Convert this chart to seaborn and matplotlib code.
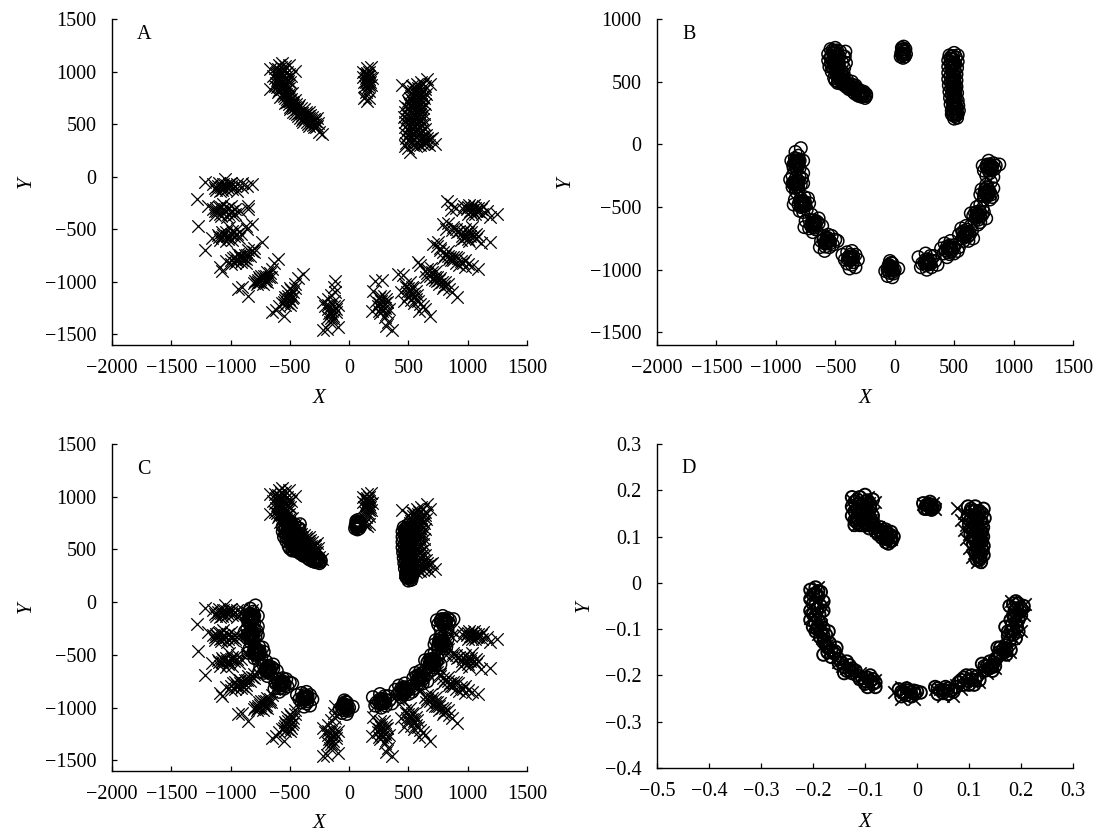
import matplotlib
matplotlib.use("Agg")
import matplotlib.pyplot as plt
import seaborn as sns
import pandas as pd

sns.set_theme(style="ticks")
plt.rcParams['font.family'] = ['Liberation Serif', 'DejaVu Serif']

# ---- panel A: crosses ----
a_arm_left = [(-625,1030),(-590,1060),(-567,1085),(-510,1060),(-455,1006),(-670,1025),(-640,960),(-610,1000),(-580,1010),(-550,1020),(-520,1000),(-490,960),
 (-610,920),(-590,950),(-560,960),(-530,930),(-500,900),(-666,835),(-625,860),(-590,880),(-565,900),(-535,870),(-505,840),(-600,810),(-570,830),(-540,810),
 (-510,790),(-480,800),(-580,760),(-550,770),(-520,740),(-490,740),(-460,730),(-545,700),(-510,690),(-480,680),(-450,690),(-420,680),(-500,640),(-470,620),
 (-440,640),(-410,620),(-380,640),(-430,580),(-395,590),(-365,600),(-340,620),(-400,540),(-370,550),(-340,560),(-310,570),(-350,500),(-320,510),(-290,530),
 (-270,560),(-300,470),(-270,480),(-260,510),(-255,430),(-230,408),
 (-600,1020),(-575,1040),(-545,1050),(-620,985),(-595,975),(-565,985),(-535,985),(-505,975),(-625,940),(-600,935),(-575,925),(-545,940),(-515,915),(-615,895),
 (-590,905),(-565,875),(-540,895),(-515,865),(-610,850),(-585,850),(-555,850),(-525,830),(-590,825),(-560,800),(-530,785),(-505,760),(-570,780),(-540,745),
 (-510,725),(-480,715),(-525,710),(-495,665),(-460,660),(-430,660),(-475,650),(-455,610),(-425,605),(-395,610),(-415,560),(-380,570),(-350,580),(-385,520),
 (-355,525),(-325,535),(-335,480),(-305,490),(-285,500),(-470,700),(-440,600),(-470,680),(-500,720),(-410,650),(-360,620),(-330,590),(-300,545),(-280,470),(-360,560),(-390,560)]
a_small = [(120,1000),(150,1030),(185,1040),(115,950),(140,980),(170,960),(195,940),(125,900),(150,920),(175,900),(130,860),(160,850),(185,870),(145,810),
 (170,820),(125,745),(150,720),(135,760),(165,745),(150,950),(165,930),(140,900),(160,880),(150,990),(170,1000),(155,965),(145,935),(155,905),(170,875)]
a_arm_right = [(444,875),(655,930),(610,900),(570,880),(530,860),(640,860),(680,880),(500,830),(540,820),(580,840),(620,820),(650,790),(520,770),(560,790),
 (600,780),(630,750),(495,720),(530,730),(570,740),(610,720),(640,690),(470,670),(510,680),(550,690),(590,670),(625,650),(470,620),(510,630),(550,640),(590,620),
 (630,600),(465,570),(500,580),(540,590),(580,570),(620,550),(470,520),(510,530),(550,540),(590,520),(630,500),(470,470),(510,480),(550,490),(590,470),(640,450),
 (475,420),(515,430),(555,440),(600,420),(650,400),(700,370),(480,370),(520,380),(560,390),(610,360),(660,340),(725,313),(480,320),(530,330),(570,330),(620,310),
 (670,300),(500,270),(514,231),(560,290),(600,300),(650,320),(470,290),
 (545,850),(590,860),(625,880),(525,800),(565,810),(605,800),(640,830),(515,750),(550,760),(585,760),(620,770),(505,700),(540,710),(575,710),(605,695),(495,650),
 (530,655),(570,655),(605,645),(490,600),(525,610),(565,610),(600,595),(490,550),(525,560),(560,565),(600,545),(495,500),(530,510),(570,505),(610,490),(495,450),
 (530,460),(575,455),(615,445),(500,400),(540,410),(585,395),(625,390),(660,370),(505,350),(545,355),(590,345),(635,350),(680,360),(540,305),(580,310),(630,335)]
a_row1 = [(-1214,-54),(-1150,-70),(-1100,-60),(-1045,-22),(-1130,-110),(-1080,-100),(-1040,-80),(-1000,-60),(-960,-90),(-900,-60),(-860,-90),(-820,-70),(-1090,-140),(-1040,-130),(-990,-120),(-950,-140),
 (-1110,-90),(-1060,-70),(-1020,-110),(-1070,-130),(-1000,-90),(-1120,-130),(-950,-70),(-1060,-100),(-1015,-70),(-900,-100)]
a_row2 = [(-1284,-210),(-1190,-280),(-1150,-310),(-1116,-322),(-1080,-290),(-1040,-330),(-1000,-280),(-960,-310),(-920,-330),(-850,-275),(-1130,-360),(-1080,-370),(-1030,-380),(-980,-360),(-1060,-260),(-850,-310),
 (-1130,-330),(-1100,-290),(-1070,-340),(-1090,-350),(-1060,-310),(-1020,-300),(-1020,-350),(-1120,-300),(-990,-330),(-960,-350)]
a_row3 = [(-1272,-465),(-1160,-580),(-1110,-550),(-1070,-530),(-1031,-560),(-990,-520),(-950,-500),(-910,-540),(-860,-500),(-820,-446),(-1090,-600),(-1040,-610),(-990,-600),(-1010,-480),(-870,-470),(-1214,-693),
 (-1070,-570),(-1040,-530),(-1010,-570),(-1000,-540),(-1060,-550),(-1020,-590),(-970,-560),(-950,-540),(-1100,-570),(-930,-580)]
a_row4 = [(-1073,-893),(-1040,-800),(-1000,-790),(-960,-760),(-919,-766),(-880,-740),(-850,-700),(-800,-680),(-737,-624),(-960,-820),(-910,-810),(-870,-780),(-1085,-860),(-940,-730),(-800,-720),(-870,-820),
 (-950,-780),(-920,-740),(-890,-770),(-900,-790),(-860,-740),(-840,-750),(-980,-770),(-950,-800),(-820,-710),(-1000,-830)]
a_row5 = [(-935,-1063),(-850,-1130),(-800,-1010),(-770,-980),(-750,-971),(-720,-940),(-690,-910),(-650,-880),(-598,-780),(-630,-820),(-780,-1020),(-730,-1020),(-700,-970),(-660,-950),(-900,-1050),(-690,-1000),
 (-770,-1000),(-750,-1000),(-730,-960),(-710,-990),(-740,-940),(-700,-940),(-680,-950),(-790,-990),(-670,-920),(-760,-950)]
a_row6 = [(-652,-1288),(-553,-1320),(-620,-1270),(-570,-1200),(-540,-1170),(-512,-1130),(-490,-1190),(-470,-1100),(-500,-1060),(-460,-1020),(-430,-960),(-386,-924),(-540,-1220),(-480,-1150),(-520,-1090),(-590,-1230),
 (-540,-1140),(-510,-1160),(-520,-1200),(-490,-1120),(-470,-1140),(-550,-1190),(-500,-1220),(-460,-1060),(-490,-1080),(-530,-1150)]
a_row7 = [(-218,-1462),(-190,-1450),(-93,-1431),(-146,-1272),(-118,-988),(-130,-1050),(-220,-1190),(-180,-1160),(-130,-1180),(-90,-1220),(-170,-1300),(-150,-1340),(-120,-1100),(-110,-1260),(-175,-1220),(-160,-1380),
 (-180,-1260),(-150,-1300),(-130,-1230),(-160,-1240),(-140,-1320),(-110,-1290),(-180,-1330),(-200,-1230),(-130,-1350),(-150,-1120)]
a_row8 = [(219,-988),(191,-1272),(200,-1090),(250,-1150),(290,-1130),(320,-1190),(240,-1230),(287,-1225),(340,-1260),(260,-1300),(300,-1330),(330,-1380),(360,-1462),(310,-1420),(270,-1180),(275,-980),
 (250,-1200),(270,-1250),(300,-1250),(280,-1280),(310,-1160),(260,-1130),(230,-1180),(320,-1300),(300,-1200),(250,-1280)]
a_row9 = [(413,-921),(450,-930),(470,-1020),(500,-1060),(528,-1111),(560,-1090),(500,-1130),(460,-1180),(560,-1160),(600,-1210),(640,-1260),(683,-1320),(590,-1280),(540,-1060),(440,-1100),(510,-1000),
 (510,-1090),(490,-1100),(530,-1050),(550,-1130),(570,-1120),(520,-1170),(480,-1050),(580,-1180),(545,-1200),(620,-1230)]
a_row10 = [(582,-814),(600,-840),(640,-900),(680,-940),(720,-950),(739,-988),(770,-960),(800,-1040),(840,-1070),(870,-1100),(908,-1146),(690,-870),(760,-1020),(650,-950),(830,-1020),(730,-900),
 (660,-920),(700,-970),(720,-980),(760,-980),(780,-1000),(740,-950),(700,-910),(810,-1000),(790,-1060),(660,-880)]
a_row11 = [(708,-636),(740,-660),(770,-700),(810,-740),(852,-766),(880,-790),(920,-770),(960,-820),(1000,-830),(1040,-850),(1088,-873),(830,-710),(900,-820),(750,-620),(980,-790),(790,-770),
 (790,-720),(830,-750),(860,-790),(880,-760),(900,-760),(840,-780),(940,-800),(980,-860),(930,-840),(770,-680)]
a_row12 = [(793,-446),(820,-500),(870,-510),(910,-530),(950,-560),(992,-560),(1030,-530),(1070,-590),(1110,-630),(1189,-624),(980,-500),(1040,-480),(940,-600),(1010,-610),(1090,-560),(830,-440),
 (900,-500),(930,-520),(960,-530),(1000,-530),(1020,-560),(970,-580),(1000,-590),(1050,-560),(880,-480),(1070,-540)]
a_row13 = [(824,-228),(860,-260),(900,-300),(960,-310),(1000,-290),(1020,-322),(1050,-270),(1090,-300),(1120,-350),(1160,-330),(1245,-351),(1190,-380),(1000,-350),(1060,-350),(860,-320),(1130,-280),
 (990,-310),(1030,-290),(1060,-300),(1040,-320),(1070,-330),(1010,-270),(1090,-330),(1110,-310),(1040,-350),(970,-280)]
A_GROUPS = [a_arm_left, a_small, a_arm_right, a_row1, a_row2, a_row3, a_row4, a_row5, a_row6, a_row7, a_row8, a_row9, a_row10, a_row11, a_row12, a_row13]

# ---- panel B: circles ----
b_arm_left = [(-540,760),(-500,770),(-460,740),(-560,720),(-520,730),(-480,720),(-430,700),(-560,670),(-520,680),(-480,670),(-440,650),(-550,620),(-510,630),(-470,620),
 (-530,580),(-490,590),(-450,560),(-510,530),(-470,520),(-430,510),(-480,490),(-440,480),(-400,490),(-360,500),(-410,460),(-370,450),(-330,470),(-350,420),(-310,440),
 (-290,410),(-260,420),(-310,390),(-280,380),(-250,370),(-240,400),
 (-525,750),(-505,745),(-485,750),(-535,705),(-510,705),(-490,700),(-465,700),(-540,690),(-500,655),(-470,650),(-535,650),(-515,655),(-490,640),(-530,620),(-490,615),(-510,600),
 (-470,595),(-495,570),(-470,560),(-450,590),(-490,550),(-460,540),(-435,540),(-500,510),(-475,500),(-450,505),(-425,490),(-400,515),(-380,480),(-400,470),(-355,475),(-385,440),
 (-355,445),(-335,440),(-320,425),(-335,405),(-300,420),(-295,385),(-275,400),(-265,395),(-255,385),(-285,395),
 (-500,725),(-495,695),(-505,675),(-495,665),(-480,690),(-510,640),(-500,625),(-485,600),(-480,575),(-475,540),(-455,525),(-445,500),(-420,475),(-415,505),(-395,455),(-370,470),
 (-345,455),(-320,450),(-305,405),(-270,410),(-290,430),(-260,405),(-240,385),(-420,700),(-415,740),(-410,650),(-425,610),(-430,565)]
b_small = [(60,770),(75,780),(90,760),(55,730),(75,740),(95,720),(50,700),(70,690),(85,700),(65,755),(80,720),(65,710),(70,725),(72,760),(60,715),(80,745)]
b_arm_right = [(460,710),(500,730),(530,710),(450,670),(490,680),(530,660),(450,620),(490,630),(525,610),(450,570),(490,580),(520,560),(450,520),(490,530),(520,510),
 (455,470),(490,480),(520,460),(460,420),(495,430),(525,410),(465,370),(500,380),(530,350),(470,320),(505,330),(535,310),(480,270),(510,280),(540,270),(500,205),(525,212),
 (475,700),(490,705),(515,695),(470,655),(510,645),(475,605),(505,590),(470,550),(505,545),(470,500),(505,495),(475,445),(510,440),(480,395),(510,400),(485,350),(515,355),(490,305),
 (520,300),(495,260),(520,260),(470,685),(495,655),(485,610),(490,555),(490,505),(490,455),(495,405),(500,350),(505,300),(510,245),(485,675),(480,625),(485,580),(480,525),(480,480),
 (485,425),(490,375),(495,320),(500,285),(505,225),(515,235),(490,235),(530,240),(480,240),(500,640),(500,520),(505,465),(505,375)]
b_c1 = [(-870,-130),(-835,-60),(-790,-30),(-810,-90),(-770,-130),(-850,-190),(-810,-170),(-770,-230),(-840,-110),(-800,-130),(-825,-200),(-845,-150),(-825,-130),(-815,-150),(-835,-175),(-800,-190),(-855,-165),(-820,-115),(-830,-150),(-820,-165),(-810,-135),(-840,-135)]
b_c2 = [(-880,-280),(-860,-340),(-835,-316),(-800,-260),(-770,-310),(-810,-360),(-860,-250),(-790,-320),(-830,-380),(-850,-300),(-780,-270),(-845,-320),(-825,-290),(-810,-310),(-835,-345),(-815,-335),(-830,-265),(-860,-310),(-825,-310),(-820,-320),(-835,-300),(-810,-290)]
b_c3 = [(-850,-480),(-790,-430),(-778,-475),(-720,-470),(-740,-520),(-800,-530),(-810,-480),(-760,-420),(-840,-440),(-770,-540),(-730,-430),(-790,-460),(-765,-495),(-755,-460),(-790,-500),(-800,-455),(-750,-490),(-775,-450),(-780,-480),(-770,-465),(-785,-490),(-760,-480)]
b_c4 = [(-760,-660),(-720,-600),(-680,-634),(-640,-630),(-660,-680),(-720,-670),(-700,-560),(-640,-590),(-750,-610),(-690,-700),(-610,-650),(-700,-625),(-680,-605),(-665,-640),(-690,-660),(-655,-615),(-705,-650),(-675,-665),(-685,-625),(-675,-645),(-690,-640),(-670,-620)]
b_c5 = [(-620,-770),(-576,-767),(-530,-730),(-520,-800),(-590,-850),(-630,-820),(-560,-720),(-480,-770),(-550,-820),(-600,-730),(-500,-760),(-590,-790),(-565,-745),(-545,-770),(-570,-790),(-600,-760),(-545,-790),(-585,-815),(-570,-765),(-580,-780),(-560,-775),(-575,-750)]
b_c6 = [(-440,-880),(-370,-905),(-330,-880),(-310,-920),(-380,-990),(-330,-980),(-400,-950),(-360,-850),(-420,-920),(-350,-940),(-400,-860),(-385,-895),(-355,-915),(-375,-925),(-395,-915),(-350,-890),(-375,-880),(-360,-960),(-370,-900),(-365,-915),(-380,-910),(-360,-895)]
b_c7 = [(-80,-1010),(-40,-980),(0,-1000),(30,-990),(-60,-1050),(-20,-1060),(-40,-930),(-10,-1030),(-50,-960),(-20,-950),(-60,-1000),(-35,-1005),(-25,-975),(-45,-1025),(-15,-1000),(-55,-980),(-30,-945),(-20,-1020),(-35,-990),(-30,-1000),(-40,-970),(-25,-990)]
b_c8 = [(200,-900),(230,-950),(275,-940),(340,-930),(270,-1000),(220,-980),(300,-890),(260,-870),(360,-960),(310,-980),(330,-890),(260,-920),(290,-950),(280,-915),(250,-945),(305,-925),(265,-965),(300,-955),(275,-930),(285,-940),(265,-945),(280,-955)]
b_c9 = [(390,-830),(457,-834),(510,-800),(440,-900),(500,-870),(470,-770),(420,-790),(530,-850),(410,-870),(480,-830),(540,-820),(440,-815),(465,-805),(480,-850),(450,-860),(430,-845),(495,-825),(460,-875),(455,-825),(465,-840),(445,-835),(470,-820)]
b_c10 = [(540,-720),(598,-714),(650,-690),(620,-770),(570,-750),(600,-650),(560,-670),(660,-750),(630,-720),(580,-770),(640,-650),(585,-690),(610,-680),(615,-735),(580,-735),(605,-715),(570,-700),(625,-700),(595,-705),(600,-725),(590,-720),(610,-705)]
b_c11 = [(640,-550),(702,-568),(750,-540),(720,-620),(670,-610),(690,-500),(740,-510),(770,-590),(660,-570),(720,-480),(700,-640),(690,-540),(715,-535),(720,-575),(685,-585),(705,-600),(735,-565),(675,-545),(700,-555),(695,-575),(710,-560),(690,-565)]
b_c12 = [(720,-400),(775,-383),(830,-350),(800,-440),(750,-440),(770,-320),(810,-300),(730,-360),(820,-420),(760,-360),(790,-400),(755,-385),(790,-360),(775,-415),(750,-410),(800,-380),(780,-340),(810,-400),(770,-375),(780,-390),(765,-395),(785,-370)]
b_c13 = [(740,-170),(780,-160),(808,-185),(850,-170),(880,-160),(800,-230),(770,-250),(830,-260),(790,-130),(750,-210),(830,-150),(780,-190),(800,-160),(820,-175),(790,-210),(815,-205),(770,-175),(840,-195),(800,-180),(810,-170),(795,-190),(815,-190)]
B_GROUPS = [b_arm_left, b_small, b_arm_right, b_c1, b_c2, b_c3, b_c4, b_c5, b_c6, b_c7, b_c8, b_c9, b_c10, b_c11, b_c12, b_c13]

# ---- panel D ----
d_circles = [(-0.125,0.185),(-0.10,0.19),(-0.085,0.18),(-0.125,0.165),(-0.105,0.17),(-0.09,0.16),(-0.125,0.145),(-0.105,0.15),(-0.09,0.14),(-0.12,0.125),(-0.10,0.13),
 (-0.085,0.125),(-0.07,0.12),(-0.06,0.115),(-0.05,0.11),(-0.075,0.105),(-0.06,0.095),(-0.05,0.09),(-0.045,0.10),(-0.055,0.085),
 (-0.115,0.18),(-0.095,0.178),(-0.115,0.158),(-0.098,0.16),(-0.115,0.138),(-0.098,0.142),(-0.11,0.125),(-0.092,0.118),(-0.08,0.112),(-0.066,0.108),(-0.065,0.102),(-0.05,0.098),
 (-0.112,0.17),(-0.105,0.16),(-0.108,0.145),(-0.105,0.135),(-0.085,0.13),(-0.075,0.115),(-0.058,0.105),(-0.06,0.088),
 (-0.12,0.175),(-0.11,0.185),(-0.10,0.175),(-0.09,0.17),(-0.12,0.155),(-0.11,0.165),(-0.095,0.15),(-0.085,0.145),(-0.12,0.135),(-0.11,0.15),(-0.1,0.14),(-0.09,0.13),(-0.115,0.13),(-0.105,0.125),(-0.095,0.125),(-0.08,0.12),
 (-0.07,0.112),(-0.06,0.11),(-0.052,0.104),(-0.068,0.098),(-0.056,0.096),(-0.048,0.092),
 (0.012,0.172),(0.025,0.175),(0.034,0.165),(0.015,0.16),(0.028,0.158),(0.022,0.166),(0.018,0.168),(0.028,0.168),(0.02,0.16),(0.024,0.17),(0.03,0.162),
 (0.098,0.165),(0.112,0.165),(0.128,0.16),(0.098,0.145),(0.115,0.145),(0.13,0.14),(0.10,0.125),(0.115,0.125),(0.127,0.12),(0.103,0.105),(0.117,0.105),(0.127,0.10),
 (0.108,0.085),(0.12,0.085),(0.128,0.08),(0.112,0.065),(0.122,0.065),(0.128,0.06),(0.115,0.05),(0.123,0.045),
 (0.105,0.155),(0.12,0.155),(0.108,0.135),(0.122,0.135),(0.108,0.115),(0.122,0.112),(0.11,0.095),(0.122,0.095),(0.115,0.075),(0.124,0.075),(0.118,0.058),(0.12,0.05),
 (0.112,0.155),(0.104,0.16),(0.125,0.15),(0.104,0.14),(0.118,0.15),(0.125,0.13),(0.112,0.13),(0.104,0.118),(0.118,0.118),(0.125,0.11),(0.112,0.11),(0.108,0.1),(0.12,0.1),(0.112,0.09),(0.125,0.09),(0.116,0.082),(0.118,0.07),(0.126,0.07),(0.122,0.055),(0.115,0.06),
 (-0.205,-0.015),(-0.195,-0.01),(-0.185,-0.02),(-0.205,-0.035),(-0.19,-0.03),(-0.18,-0.04),(-0.205,-0.06),(-0.195,-0.07),(-0.18,-0.06),(-0.205,-0.08),(-0.185,-0.085),
 (-0.195,-0.105),(-0.18,-0.115),(-0.17,-0.105),(-0.2,-0.095),(-0.175,-0.135),(-0.165,-0.145),(-0.155,-0.14),(-0.18,-0.155),(-0.165,-0.16),
 (-0.195,-0.025),(-0.195,-0.045),(-0.192,-0.055),(-0.19,-0.08),(-0.19,-0.095),(-0.185,-0.105),(-0.178,-0.125),(-0.172,-0.14),(-0.16,-0.152),(-0.15,-0.165),
 (-0.2,-0.025),(-0.19,-0.018),(-0.2,-0.045),(-0.185,-0.05),(-0.2,-0.068),(-0.188,-0.068),(-0.196,-0.085),(-0.192,-0.1),(-0.18,-0.098),(-0.186,-0.118),(-0.175,-0.112),(-0.18,-0.128),(-0.168,-0.13),(-0.172,-0.15),(-0.158,-0.148),
 (-0.15,-0.175),(-0.135,-0.17),(-0.125,-0.185),(-0.14,-0.195),(-0.125,-0.195),(-0.105,-0.205),(-0.09,-0.2),(-0.08,-0.215),(-0.095,-0.225),(-0.08,-0.225),
 (-0.14,-0.182),(-0.13,-0.188),(-0.115,-0.2),(-0.1,-0.212),(-0.09,-0.212),(-0.085,-0.208),(-0.145,-0.172),(-0.13,-0.178),(-0.135,-0.19),(-0.118,-0.19),(-0.11,-0.208),(-0.095,-0.205),(-0.1,-0.218),(-0.085,-0.218),
 (-0.035,-0.23),(-0.02,-0.228),(0.0,-0.235),(0.007,-0.237),(-0.03,-0.245),(-0.01,-0.245),(-0.025,-0.237),(-0.012,-0.236),(-0.004,-0.24),(-0.02,-0.242),(-0.03,-0.235),(-0.015,-0.232),(-0.006,-0.233),
 (0.035,-0.225),(0.055,-0.225),(0.075,-0.225),(0.04,-0.24),(0.06,-0.24),(0.09,-0.205),(0.105,-0.2),(0.12,-0.21),(0.09,-0.22),(0.11,-0.22),
 (0.045,-0.232),(0.065,-0.232),(0.08,-0.215),(0.098,-0.212),(0.112,-0.21),(0.052,-0.232),(0.04,-0.228),(0.05,-0.238),(0.06,-0.228),(0.07,-0.235),(0.085,-0.21),(0.095,-0.2),(0.105,-0.208),(0.1,-0.22),(0.115,-0.202),
 (0.125,-0.175),(0.14,-0.17),(0.15,-0.18),(0.13,-0.19),(0.145,-0.19),(0.155,-0.14),(0.17,-0.135),(0.18,-0.145),(0.16,-0.155),(0.172,-0.155),
 (0.135,-0.18),(0.145,-0.178),(0.138,-0.185),(0.165,-0.145),(0.172,-0.145),(0.155,-0.16),(0.15,-0.165),(0.13,-0.18),(0.142,-0.183),(0.16,-0.14),(0.168,-0.15),(0.158,-0.15),(0.148,-0.172),
 (0.17,-0.095),(0.183,-0.09),(0.195,-0.105),(0.175,-0.115),(0.19,-0.12),(0.178,-0.05),(0.19,-0.04),(0.205,-0.05),(0.185,-0.07),(0.2,-0.07),
 (0.18,-0.105),(0.185,-0.1),(0.178,-0.125),(0.188,-0.06),(0.192,-0.055),(0.195,-0.045),(0.19,-0.085),(0.195,-0.08),(0.175,-0.105),(0.185,-0.112),(0.18,-0.08),(0.188,-0.075),(0.2,-0.055),(0.185,-0.045),(0.198,-0.06),(0.192,-0.095)]
d_crosses = [(-0.125,0.18),(-0.095,0.185),(-0.08,0.175),(-0.12,0.15),(-0.10,0.16),(-0.085,0.15),(-0.115,0.125),(-0.095,0.135),(-0.075,0.12),(-0.06,0.105),(-0.05,0.095),
 (0.076,0.161),(0.09,0.15),(0.085,0.135),(0.095,0.125),(0.09,0.115),(0.10,0.105),(0.095,0.095),(0.105,0.085),(0.10,0.075),(0.11,0.065),(0.105,0.055),(0.115,0.045),
 (0.12,0.14),(0.125,0.10),(0.12,0.06),(0.012,0.17),(0.03,0.172),(0.035,0.16),
 (-0.205,-0.02),(-0.19,-0.01),(-0.205,-0.05),(-0.18,-0.05),(-0.205,-0.075),(-0.185,-0.09),(-0.19,-0.11),(-0.175,-0.125),(-0.17,-0.145),(-0.155,-0.16),(-0.145,-0.18),
 (-0.125,-0.19),(-0.11,-0.195),(-0.095,-0.22),(-0.08,-0.21),(-0.045,-0.235),(-0.03,-0.25),(-0.005,-0.25),(-0.03,-0.225),
 (0.035,-0.23),(0.05,-0.245),(0.07,-0.245),(0.085,-0.23),(0.105,-0.215),(0.12,-0.215),(0.135,-0.195),(0.15,-0.185),(0.165,-0.155),(0.178,-0.15),(0.185,-0.12),(0.2,-0.105),
 (0.19,-0.085),(0.205,-0.07),(0.195,-0.05),(0.208,-0.045),(0.18,-0.04),
 (-0.112,0.182),(-0.105,0.175),(-0.115,0.165),(-0.1,0.168),(-0.092,0.172),(-0.11,0.155),(-0.095,0.158),(-0.112,0.145),(-0.102,0.148),(-0.09,0.145),(-0.112,0.135),(-0.1,0.135),(-0.088,0.135),(-0.105,0.128),(-0.09,0.122),(-0.078,0.115),(-0.07,0.108),(-0.062,0.1),(-0.055,0.1),
 (0.108,0.155),(0.116,0.148),(0.11,0.14),(0.118,0.13),(0.11,0.122),(0.118,0.108),(0.112,0.1),(0.118,0.09),(0.118,0.078),(0.12,0.068),(0.018,0.165),(0.026,0.163),
 (-0.198,-0.03),(-0.192,-0.04),(-0.198,-0.058),(-0.192,-0.075),(-0.195,-0.09),(-0.186,-0.1),(-0.182,-0.12),(-0.174,-0.135),(-0.165,-0.15),(-0.152,-0.17),(-0.136,-0.183),(-0.122,-0.193),(-0.108,-0.205),(-0.092,-0.215),
 (-0.025,-0.235),(-0.015,-0.24),(-0.008,-0.235),(0.045,-0.23),(0.06,-0.235),(0.075,-0.22),(0.092,-0.212),(0.108,-0.205),(0.128,-0.185),(0.142,-0.175),(0.158,-0.152),(0.17,-0.142),(0.18,-0.115),(0.186,-0.095),(0.19,-0.07),(0.195,-0.055)]

x_ticks_ac = [-2000,-1500,-1000,-500,0,500,1000,1500]
y_ticks_ac = [-1500,-1000,-500,0,500,1000,1500]
y_ticks_b = [-1500,-1000,-500,0,500,1000]
x_ticks_d = [-0.5,-0.4,-0.3,-0.2,-0.1,0,0.1,0.2,0.3]
y_ticks_d = [-0.4,-0.3,-0.2,-0.1,0,0.1,0.2,0.3]

def frame(groups):
    pts = [p for g in groups for p in g]
    return pd.DataFrame(pts, columns=["X", "Y"])

W, H = 1095, 831
fig = plt.figure(figsize=(W/100, H/100), dpi=100, facecolor='white')

def make_axes(l, r, t, b):
    return fig.add_axes([l/W, 1-b/H, (r-l)/W, (b-t)/H])

MS = 80
def crosses(ax, df, lw=0.9):
    sns.scatterplot(data=df, x="X", y="Y", ax=ax, marker="x", s=MS, color="black", linewidth=lw, clip_on=False)
def circles(ax, df, lw=0.9):
    sns.scatterplot(data=df, x="X", y="Y", ax=ax, marker="o", s=MS, facecolor="none", edgecolor="black", linewidth=lw, clip_on=False)

def minus(v):
    return str(v).replace('-', '\u2212')

def style(ax, letter, xt, yt, xl, yl, fmt=minus, xlabel_px=44, ylabel_px=76, letter_y=0.953):
    ax.set_xlim(*xl); ax.set_ylim(*yl)
    ax.set_xticks(xt); ax.set_yticks(yt)
    ax.set_xticklabels([fmt(v) for v in xt]); ax.set_yticklabels([fmt(v) for v in yt])
    ax.tick_params(direction='in', length=3.8, width=0.9, labelsize=14.5, colors='black')
    ax.tick_params(axis='x', pad=10)
    ax.tick_params(axis='y', pad=11)
    for s in ('top', 'right'):
        ax.spines[s].set_visible(False)
    for s in ('left', 'bottom'):
        ax.spines[s].set_linewidth(1.0); ax.spines[s].set_color('black')
    bb = ax.get_position()
    ax.set_xlabel("X", fontstyle='italic', fontsize=15, color='black')
    ax.set_ylabel("Y", fontstyle='italic', fontsize=15, color='black')
    ax.xaxis.set_label_coords(0.5, -xlabel_px/(bb.height*H))
    ax.yaxis.set_label_coords(-ylabel_px/(bb.width*W), 0.5)
    ax.text(0.077, letter_y, letter, transform=ax.transAxes, fontsize=14.5, color='black', va='center', ha='center')

def fmt_d(v):
    return "0" if v == 0 else minus(f"{v:.1f}")

a_df = frame(A_GROUPS)
b_df = frame(B_GROUPS)

ax = make_axes(112, 527, 19, 345)
crosses(ax, a_df)
style(ax, "A", x_ticks_ac, y_ticks_ac, (-2000, 1500), (-1600, 1500))

ax = make_axes(657, 1073, 19, 345)
circles(ax, b_df, lw=1.1)
style(ax, "B", x_ticks_ac, y_ticks_b, (-2000, 1500), (-1600, 1000), ylabel_px=82)

ax = make_axes(112, 527, 444, 771)
crosses(ax, a_df)
circles(ax, b_df, lw=1.1)
style(ax, "C", x_ticks_ac, y_ticks_ac, (-2000, 1500), (-1600, 1500), xlabel_px=43, letter_y=0.923)

ax = make_axes(657, 1073, 444, 768)
circles(ax, pd.DataFrame(d_circles, columns=["X", "Y"]), lw=1.4)
crosses(ax, pd.DataFrame(d_crosses, columns=["X", "Y"]), lw=1.2)
style(ax, "D", x_ticks_d, y_ticks_d, (-0.5, 0.3), (-0.4, 0.3), fmt_d, xlabel_px=45, ylabel_px=63, letter_y=0.923)

fig.savefig("out.png", dpi=100, facecolor='white')
